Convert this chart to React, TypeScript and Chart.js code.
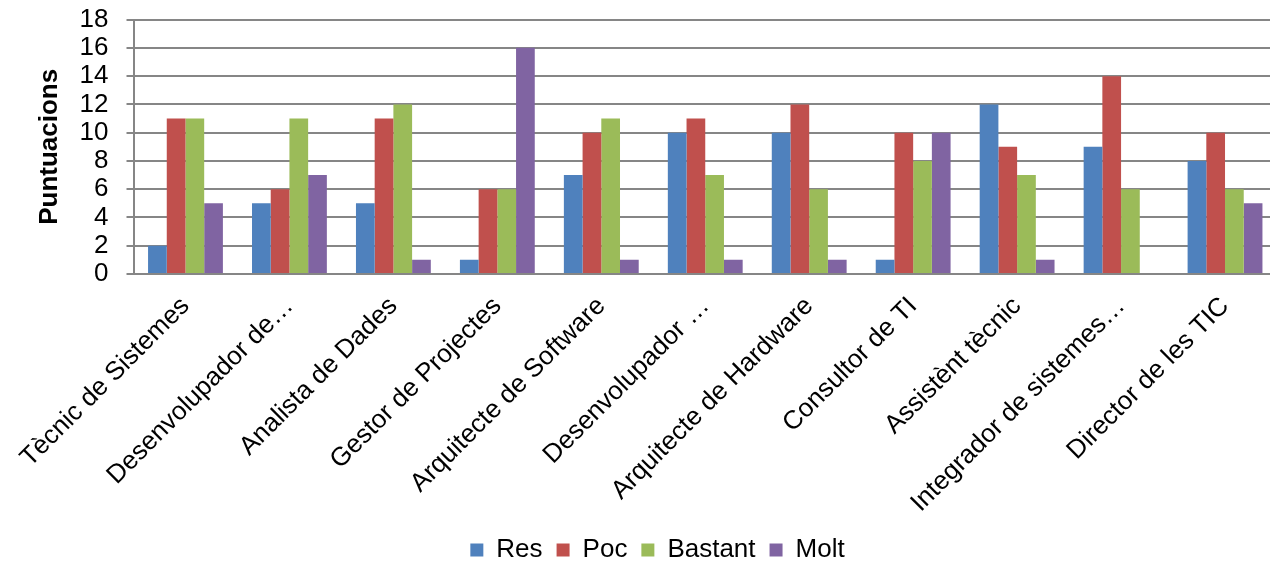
import React, { useEffect, useRef } from "react";
import { Chart, registerables } from "chart.js";

Chart.register(...registerables);

const categories = [
  "Tècnic de Sistemes",
  "Desenvolupador de…",
  "Analista de Dades",
  "Gestor de Projectes",
  "Arquitecte de Software",
  "Desenvolupador …",
  "Arquitecte de Hardware",
  "Consultor de TI",
  "Assistènt tècnic",
  "Integrador de sistemes…",
  "Director de les TIC",
];

const resValues = [2, 5, 5, 1, 7, 10, 10, 1, 12, 9, 8];
const pocValues = [11, 6, 11, 6, 10, 11, 12, 10, 9, 14, 10];
const bastantValues = [11, 11, 12, 6, 11, 7, 6, 8, 7, 6, 6];
const moltValues = [5, 7, 1, 16, 1, 1, 1, 10, 1, 0, 5];

const yTicks = [0, 2, 4, 6, 8, 10, 12, 14, 16, 18];

const FONT = "'Liberation Sans', Arial, sans-serif";

export default function App() {
  const ref = useRef<HTMLCanvasElement | null>(null);

  useEffect(() => {
    document.body.style.margin = "0";
    const canvas = ref.current;
    if (!canvas) return;
    const chart = new Chart(canvas, {
      type: "bar",
      data: {
        labels: categories,
        datasets: [
          { label: "Res", data: resValues, backgroundColor: "#4F81BD" },
          { label: "Poc", data: pocValues, backgroundColor: "#C0504D" },
          { label: "Bastant", data: bastantValues, backgroundColor: "#9BBB59" },
          { label: "Molt", data: moltValues, backgroundColor: "#8064A2" },
        ],
      },
      options: {
        responsive: false,
        animation: false,
        devicePixelRatio: 1,
        layout: { padding: { left: 38, right: 13, top: 3, bottom: 0 } },
        datasets: {
          bar: { categoryPercentage: 0.72, barPercentage: 1, borderWidth: 0 },
        },
        scales: {
          x: {
            afterFit: (scale: any) => {
              scale.height = 249;
            },
            grid: { display: false },
            border: { display: true, color: "#868686", width: 2 },
            ticks: {
              autoSkip: false,
              maxRotation: 45,
              minRotation: 45,
              color: "#000",
              padding: 9,
              font: { family: FONT, size: 26 },
            },
          },
          y: {
            min: 0,
            max: 18,
            afterFit: (scale: any) => {
              scale.width = 95.5;
            },
            afterBuildTicks: (scale: any) => {
              scale.ticks = yTicks.map((v) => ({ value: v }));
            },
            grid: { color: "#868686", lineWidth: 2, tickLength: 7, drawTicks: true },
            border: { display: true, color: "#868686", width: 2 },
            ticks: {
              autoSkip: false,
              color: "#000",
              padding: 18,
              font: { family: FONT, size: 26 },
            },
            title: {
              display: true,
              text: "Puntuacions",
              color: "#000",
              font: { family: FONT, size: 26, weight: "bold" },
              padding: { top: -4, bottom: 0 },
            },
          },
        },
        plugins: {
          legend: {
            position: "bottom",
            labels: {
              boxWidth: 13,
              boxHeight: 13,
              padding: 14,
              color: "#000",
              font: { family: FONT, size: 26 },
            },
          },
          tooltip: { enabled: false },
        },
      },
    });
    return () => chart.destroy();
  }, []);

  return (
    <div style={{ width: 1270, height: 561, overflow: "hidden", position: "relative", background: "#fff" }}>
      <canvas
        ref={ref}
        width={1290}
        height={587}
        style={{ display: "block", position: "absolute", left: 0, top: -14 }}
      />
    </div>
  );
}
